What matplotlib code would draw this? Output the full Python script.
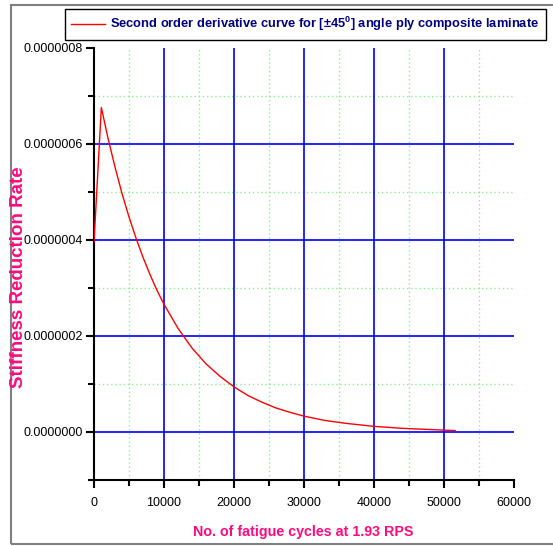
import matplotlib
matplotlib.use("Agg")
import matplotlib.pyplot as plt
from matplotlib.patches import Rectangle
from matplotlib.ticker import MultipleLocator, FormatStrFormatter

plt.rcParams['font.family'] = ['Liberation Sans', 'DejaVu Sans']
plt.rcParams['mathtext.fontset'] = 'custom'
plt.rcParams['mathtext.rm'] = 'Liberation Sans:bold'
plt.rcParams['mathtext.bf'] = 'Liberation Sans:bold'

# fatigue cycles and second order derivative of stiffness
cycles = [0, 1050, 2000, 3000, 4000, 5000, 6000, 7000, 8000, 9000, 10000,
          12000, 14000, 16000, 18000, 20000, 22000, 24000, 26000, 28000,
          30000, 33000, 36000, 40000, 44000, 48000, 51600]
rate = [3.95e-7, 6.76e-7, 6.12e-7, 5.52e-7, 4.97e-7, 4.48e-7, 4.04e-7, 3.64e-7,
        3.28e-7, 2.95e-7, 2.66e-7, 2.16e-7, 1.75e-7, 1.42e-7, 1.16e-7, 0.94e-7,
        0.76e-7, 0.62e-7, 0.50e-7, 0.41e-7, 0.33e-7, 0.24e-7, 0.18e-7,
        0.117e-7, 0.077e-7, 0.051e-7, 0.030e-7]

x_major = [10000, 20000, 30000, 40000, 50000]
x_minor = [5000, 15000, 25000, 35000, 45000, 55000]
y_major = [0, 2e-7, 4e-7, 6e-7]
y_minor = [1e-7, 3e-7, 5e-7, 7e-7]

legend_text = r'Second order derivative curve for [±45$^{\mathbf{0}}$] angle ply composite laminate'
pink = '#FF0A7F'


def fit_length(text, length_px, renderer, vertical=False):
    # shrink or grow a text until it spans the wanted number of pixels
    for _ in range(3):
        box = text.get_window_extent(renderer)
        size = box.height if vertical else box.width
        text.set_fontsize(text.get_fontsize() * length_px / size)


fig = plt.figure(figsize=(5.53, 5.46), dpi=100)
ax = fig.add_axes([94 / 553, 1 - 480 / 546, 420 / 553, 432 / 546])

for v in x_minor:
    ax.axvline(v, color='#90EE90', lw=1, ls=(0, (1, 2)), zorder=1)
for v in y_minor:
    ax.axhline(v, color='#90EE90', lw=1, ls=(0, (1, 2)), zorder=1)
for v in x_major:
    ax.axvline(v, color='#0000FF', lw=1.2, zorder=2)
for v in y_major:
    ax.axhline(v, color='#0000FF', lw=1.2, zorder=2)

ax.plot(cycles, rate, color='#FF0000', lw=1, zorder=3, label=legend_text)

ax.set_xlim(0, 60000)
ax.set_ylim(-1e-7, 8e-7)
ax.xaxis.set_major_locator(MultipleLocator(10000))
ax.xaxis.set_minor_locator(MultipleLocator(5000))
ax.yaxis.set_major_locator(MultipleLocator(2e-7))
ax.yaxis.set_minor_locator(MultipleLocator(1e-7))
ax.yaxis.set_major_formatter(FormatStrFormatter('%.7f'))
ax.xaxis.set_major_formatter(FormatStrFormatter('%d'))

for side in ('top', 'right'):
    ax.spines[side].set_visible(False)
for side in ('left', 'bottom'):
    ax.spines[side].set_linewidth(1.5)

ax.tick_params(which='major', length=6, width=1.5, labelsize=9, pad=2)
ax.tick_params(which='minor', length=4, width=1.5)
ax.tick_params(axis='x', pad=6)

# axis titles placed in figure pixels
xlab = fig.text(303 / 553, 1 - 532 / 546, 'No. of fatigue cycles at 1.93 RPS',
                color=pink, fontsize=12, fontweight='bold',
                ha='center', va='center')
ylab = fig.text(19 / 553, 1 - 277 / 546, 'Stiffness Reduction Rate',
                color=pink, fontsize=13.5, fontweight='bold',
                ha='center', va='center', rotation=90)

leg = ax.legend(loc='upper left', bbox_to_anchor=(65 / 553, 1 - 9 / 546),
                bbox_transform=fig.transFigure, fancybox=False,
                edgecolor='black', framealpha=1, handlelength=2.4,
                borderaxespad=0, borderpad=0.45, handletextpad=0.4,
                prop={'size': 10, 'weight': 'bold'})
leg.get_frame().set_linewidth(1)
for t in leg.get_texts():
    t.set_color('#000080')

renderer = fig.canvas.get_renderer()
fit_length(xlab, 220, renderer)
fit_length(leg.get_texts()[0], 431, renderer)

fig.patches.append(Rectangle((11 / 553, 1 - 544 / 546), 1.0, 539 / 546,
                             transform=fig.transFigure, fill=False,
                             edgecolor='#808080', lw=1.5))

fig.savefig('out.png', dpi=100)
